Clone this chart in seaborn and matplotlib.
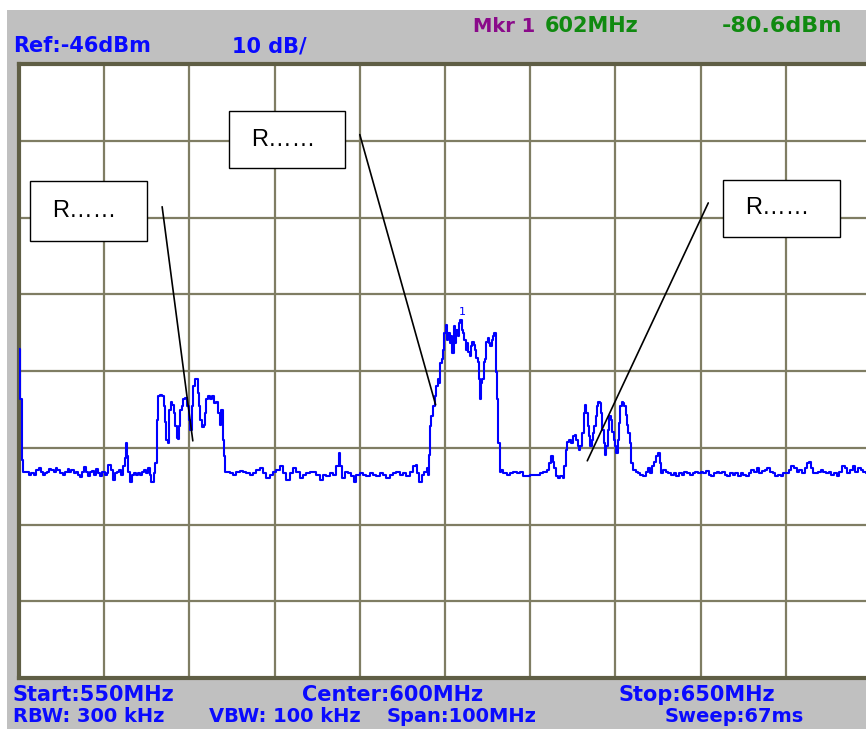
"""
Spectrum analyser screen: 550-650 MHz sweep with three labelled channels.
"""

import matplotlib
matplotlib.use("Agg")
import matplotlib.pyplot as plt
from matplotlib.patches import Rectangle
import pandas as pd
import seaborn as sns

# ── Trace (MHz, dBm) ─────────────────────────────────────────────────
freq_mhz = [
    # low noise floor + first channel
    550.0, 550.2, 550.4, 550.6, 551.0, 551.3, 551.6, 551.9, 552.2, 552.4,
    552.7, 552.9, 553.1, 553.4, 553.7, 553.9, 554.2, 554.4, 554.6, 555.0,
    555.3, 555.6, 555.8, 556.0, 556.3, 556.6, 556.8, 557.1, 557.3, 557.5,
    557.8, 558.0, 558.2, 558.5, 558.7, 558.9, 559.2, 559.4, 559.6, 559.9,
    560.2, 560.4, 560.6, 560.9, 561.1, 561.4, 561.6, 561.8, 562.1, 562.3,
    562.5, 562.6, 562.8, 562.9, 563.2, 563.4, 563.6, 563.9, 564.1, 564.3,
    564.6, 564.8, 565.0, 565.3, 565.4, 565.7, 565.9, 566.1, 566.2, 566.3,
    566.4, 566.7, 566.9, 567.1, 567.2, 567.4, 567.5, 567.6, 567.7, 567.9,
    568.1, 568.3, 568.4, 568.6, 568.7, 568.9, 569.0, 569.2, 569.4, 569.6,
    569.8, 570.0, 570.2, 570.4, 570.5, 570.7, 570.9, 571.1, 571.2, 571.4,
    571.6, 571.8, 571.9, 572.1, 572.3, 572.6, 572.8, 573.0, 573.3, 573.5,
    573.7, 573.8, 574.0, 574.1,
    # gap
    574.3, 574.52, 574.92, 575.31, 575.70, 576.09, 576.48, 576.87, 577.27,
    577.66, 578.05, 578.44, 578.83, 579.22, 579.62, 580.01, 580.40, 580.79,
    581.18, 581.57, 581.97, 582.36, 582.75, 583.14, 583.53, 583.92, 584.32,
    584.71, 585.10, 585.49, 585.88, 586.27, 586.67, 587.06, 587.45, 587.57,
    587.76, 588.04, 588.43, 588.82, 589.21, 589.41, 589.80, 590.19, 590.58,
    590.97, 591.37, 591.76, 592.15, 592.54, 592.93, 593.33, 593.72, 594.11,
    594.50, 594.89, 595.28, 595.68, 596.07, 596.46, 596.65, 596.85, 597.16,
    597.44, 597.71, 597.95, 598.10,
    # main channel
    598.22, 598.34, 598.49, 598.65, 598.89, 599.04, 599.20, 599.36, 599.51,
    599.67, 599.83, 599.98, 600.14, 600.30, 600.45, 600.61, 600.77, 600.92,
    601.08, 601.24, 601.39, 601.55, 601.71, 601.86, 602.02, 602.18, 602.33,
    602.49, 602.65, 602.80, 602.96, 603.12, 603.27, 603.43, 603.59, 603.74,
    603.90, 604.06, 604.17, 604.29, 604.45, 604.60, 604.76, 604.92, 605.07,
    605.23, 605.39, 605.54, 605.70, 605.86, 606.01, 606.17, 606.33, 606.48,
    # gap + third channel
    606.64, 607.03, 607.42, 607.82, 608.21, 608.60, 608.99, 609.38, 609.77,
    610.17, 610.56, 610.95, 611.34, 611.73, 612.12, 612.36, 612.60, 612.75,
    612.92, 613.10, 613.38, 613.69, 613.93, 614.08, 614.24, 614.47, 614.71,
    614.87, 615.10, 615.34, 615.49, 615.65, 615.81, 615.96, 616.20, 616.35,
    616.51, 616.67, 616.83, 616.98, 617.14, 617.29, 617.45, 617.61, 617.76,
    617.92, 618.08, 618.23, 618.39, 618.55, 618.70, 618.86, 619.02, 619.18,
    619.41, 619.57, 619.72, 619.88, 620.04, 620.19, 620.35, 620.51, 620.66,
    620.82, 620.98, 621.13, 621.29, 621.45, 621.60, 621.76, 621.92,
    # high noise floor
    622.23, 622.51, 622.78, 623.10, 623.41, 623.68, 623.96, 624.19, 624.43,
    624.66, 624.90, 625.13, 625.29, 625.52, 625.76, 626.07, 626.39, 626.70,
    627.01, 627.33, 627.64, 627.95, 628.27, 628.58, 628.89, 629.21, 629.52,
    629.83, 630.15, 630.46, 630.77, 631.09, 631.40, 631.71, 632.03, 632.34,
    632.65, 632.97, 633.28, 633.59, 633.91, 634.22, 634.53, 634.85, 635.16,
    635.47, 635.79, 636.10, 636.41, 636.73, 637.04, 637.35, 637.67, 637.98,
    638.29, 638.61, 638.92, 639.23, 639.55, 639.86, 640.17, 640.49, 640.80,
    641.11, 641.43, 641.74, 642.05, 642.37, 642.68, 642.80, 643.00, 643.31,
    643.62, 643.93, 644.25, 644.56, 644.87, 645.19, 645.50, 645.81, 646.13,
    646.44, 646.75, 647.07, 647.38, 647.69, 648.01, 648.32, 648.63, 648.95,
    649.26, 649.57, 650.0,
]

level_dbm = [
    -83.1, -89.6, -97.6, -99.1, -99.2, -99.5, -99.3, -99.5, -98.9, -98.6,
    -99.1, -99.6, -99.3, -99.2, -98.8, -98.9, -99.1, -98.6, -98.9, -99.3,
    -99.5, -99.1, -98.8, -99.2, -98.9, -99.3, -99.1, -99.5, -99.8, -99.1,
    -98.5, -99.1, -99.7, -99.2, -99.0, -99.5, -98.8, -99.3, -99.7, -99.1,
    -99.6, -99.3, -98.3, -98.9, -100.2, -99.3, -99.1, -98.9, -99.5, -98.4,
    -97.3, -95.4, -97.1, -99.1, -100.4, -99.5, -99.3, -99.5, -99.3, -99.5,
    -99.1, -98.9, -99.3, -98.6, -99.5, -100.4, -99.3, -98.0, -94.5, -92.4,
    -89.3, -89.1, -89.2, -90.6, -92.6, -95.0, -95.4, -92.8, -91.1, -90.1,
    -90.4, -91.5, -93.2, -94.7, -94.9, -93.2, -91.1, -90.6, -89.7, -89.5,
    -90.6, -92.4, -93.7, -90.6, -88.0, -87.1, -87.1, -88.9, -90.6, -92.4,
    -93.3, -93.0, -91.5, -89.7, -89.3, -89.7, -89.2, -90.2, -90.0, -91.5,
    -93.0, -91.1, -95.0, -97.1,
    -99.2, -99.1, -99.3, -99.5, -99.1, -99.0, -99.2, -99.3, -99.5,
    -99.3, -98.9, -98.6, -99.3, -99.9, -99.5, -99.1, -98.9, -98.4,
    -99.3, -100.2, -99.3, -98.6, -99.1, -99.9, -99.5, -99.3, -99.1,
    -99.1, -99.5, -100.2, -99.5, -99.7, -99.3, -99.5, -98.4, -96.7,
    -98.4, -99.9, -99.1, -99.3, -99.7, -100.4, -99.5, -99.3, -99.5,
    -99.7, -99.3, -99.5, -99.7, -99.3, -99.6, -99.9, -99.5, -99.3,
    -99.1, -99.5, -99.3, -99.7, -99.1, -98.4, -98.2, -99.3, -100.4,
    -99.5, -99.1, -98.6, -99.5,
    -96.9, -93.2, -91.9, -90.6, -89.3, -88.0, -87.1, -87.6, -85.0,
    -84.5, -83.2, -81.1, -80.0, -81.9, -81.1, -82.4, -81.5, -83.7,
    -80.2, -82.4, -80.6, -81.5, -79.8, -79.3, -80.6, -81.1, -81.9,
    -83.2, -82.4, -83.5, -84.1, -82.8, -82.2, -82.6, -83.2, -84.3,
    -84.8, -87.1, -89.7, -87.6, -87.1, -84.8, -84.5, -82.2, -81.7,
    -82.4, -82.8, -81.9, -81.5, -81.1, -86.1, -89.7, -95.4, -99.1,
    -98.9, -99.3, -99.5, -99.3, -99.2, -99.3, -99.1, -99.7, -99.7,
    -99.5, -99.6, -99.5, -99.3, -99.1, -98.9, -98.0, -97.1, -97.8,
    -98.6, -99.7, -99.9, -99.7, -99.9, -98.4, -96.3, -95.2, -95.0,
    -95.4, -94.5, -94.3, -95.0, -95.8, -96.3, -95.8, -94.1, -91.5,
    -90.4, -91.5, -93.2, -94.5, -95.8, -95.0, -94.1, -93.2, -91.9,
    -90.6, -90.0, -90.2, -91.5, -93.7, -95.4, -96.9, -95.8, -93.7,
    -91.9, -92.4, -93.9, -95.0, -95.8, -96.7, -95.0, -92.8, -90.6,
    -90.0, -90.2, -90.6, -91.7, -93.0, -94.1, -95.4, -98.0,
    -98.9, -99.1, -99.3, -99.5, -99.7, -99.1, -98.6, -99.3, -98.4,
    -97.8, -97.1, -96.7, -98.0, -99.3, -98.9, -99.1, -99.3, -99.5,
    -99.3, -99.7, -99.3, -99.5, -99.1, -99.3, -99.5, -99.3, -99.1,
    -99.3, -99.1, -99.3, -99.0, -99.5, -99.7, -99.3, -99.1, -99.3,
    -99.1, -99.5, -99.7, -99.3, -99.5, -99.3, -99.7, -99.3, -99.5,
    -99.7, -99.3, -98.9, -99.1, -98.6, -99.3, -99.0, -98.9, -98.6,
    -99.1, -99.3, -99.7, -99.5, -99.7, -99.3, -99.3, -98.9, -98.4,
    -98.6, -99.1, -98.9, -99.3, -98.6, -98.0, -97.8, -98.6, -99.3,
    -99.3, -99.1, -98.9, -99.1, -99.3, -99.1, -99.5, -99.3, -99.7,
    -99.1, -98.4, -98.6, -99.3, -98.9, -98.4, -99.1, -98.6, -98.9,
    -99.1, -99.3, -99.0,
]

# Screen settings
ref_dbm = -46
db_per_div = 10
n_rows = 8
start_mhz, stop_mhz = 550, 650
marker_mhz, marker_dbm = 602, -80.6

# Callouts: box (x0, x1, y0, y1) in MHz/dBm, lead line start -> tip
callout_text = ["R……", "R……", "R……"]
callout_box = [
    (551.3, 565.0, -69.0, -61.3),
    (574.6, 588.3, -59.6, -52.1),
    (632.6, 646.4, -68.5, -61.1),
]
callout_lead = [
    ((566.8, -64.6), (570.4, -95.1)),
    ((590.0, -55.2), (598.9, -90.4)),
    ((630.9, -64.1), (616.7, -97.7)),
]

# ── Figure ───────────────────────────────────────────────────────────
sns.set_style("white")
plt.rcParams["font.family"] = ["DejaVu Sans"]

W, H = 866, 729
fig = plt.figure(figsize=(W / 100, H / 100), dpi=100, facecolor="#c0c0c0")

# white margins at the top and left edge of the screenshot
fig.patches.append(Rectangle((0, 1 - 10 / H), 1, 10 / H, transform=fig.transFigure,
                             facecolor="white", edgecolor="none", zorder=0))
fig.patches.append(Rectangle((0, 0), 7 / W, 1, transform=fig.transFigure,
                             facecolor="white", edgecolor="none", zorder=0))

ax = fig.add_axes([19 / W, (H - 678) / H, 852 / W, 614 / H])
ax.set_facecolor("white")

df = pd.DataFrame({"freq": freq_mhz, "level": level_dbm})
sns.lineplot(data=df, x="freq", y="level", ax=ax, color="#0000ff",
             linewidth=1.5, drawstyle="steps-mid", zorder=3)

ax.set_xlim(start_mhz, stop_mhz)
ax.set_ylim(ref_dbm - n_rows * db_per_div, ref_dbm)
ax.set_xticks(range(start_mhz, stop_mhz + 1, 10))
ax.set_yticks(range(ref_dbm - n_rows * db_per_div, ref_dbm + 1, db_per_div))
ax.tick_params(length=0, labelbottom=False, labelleft=False)
ax.set_xlabel("")
ax.set_ylabel("")
ax.grid(True, color="#7f7d63", linewidth=1.6)
ax.set_axisbelow(True)
for side, sp in ax.spines.items():
    sp.set_visible(True)
    sp.set_color("#5f5e45")
    sp.set_linewidth(3)

# marker label
ax.text(marker_mhz, marker_dbm + 1.6, "1", color="#0000ff", fontsize=8,
        ha="center", va="bottom", zorder=4)

# callouts
for label, (x0, x1, y0, y1), (p0, p1) in zip(callout_text, callout_box, callout_lead):
    ax.add_patch(Rectangle((x0, y0), x1 - x0, y1 - y0, facecolor="white",
                           edgecolor="black", linewidth=1, zorder=5))
    ax.text(x0 + 2.6, (y0 + y1) / 2, label, fontsize=17, color="black",
            family=["Liberation Sans", "DejaVu Sans"], ha="left", va="center", zorder=6)
    ax.plot([p0[0], p1[0]], [p0[1], p1[1]], color="black", linewidth=1.2, zorder=6)

# ── Header / footer readouts ─────────────────────────────────────────
blue, green, purple = "#0a0aff", "#108a10", "#8a0a8a"


def readout(px, py, s, color, size=15):
    fig.text(px / W, 1 - py / H, s, color=color, fontsize=size,
             fontweight="bold", ha="left", va="center")


readout(13, 46, f"Ref:{ref_dbm}dBm", blue)
readout(232, 46, f"{db_per_div} dB/", blue)
readout(473, 26, "Mkr 1", purple, 14)
readout(545, 26, f"{marker_mhz}MHz", green)
readout(722, 26, f"{marker_dbm}dBm", green, 16)

readout(13, 695, f"Start:{start_mhz}MHz", blue)
readout(302, 695, f"Center:{(start_mhz + stop_mhz) // 2}MHz", blue)
readout(618, 695, f"Stop:{stop_mhz}MHz", blue)
readout(13, 716, "RBW: 300 kHz", blue, 14)
readout(209, 716, "VBW: 100 kHz", blue, 14)
readout(387, 716, f"Span:{stop_mhz - start_mhz}MHz", blue, 14)
readout(665, 716, "Sweep:67ms", blue, 14)

fig.savefig("out.png", dpi=100, facecolor=fig.get_facecolor())
